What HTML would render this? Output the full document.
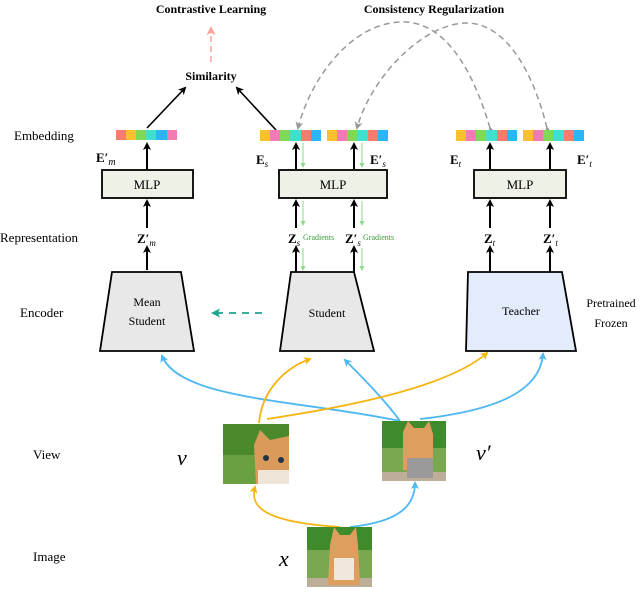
<!DOCTYPE html>
<html><head><meta charset="utf-8"><style>
html,body{margin:0;padding:0;background:#fff;}
svg{display:block;}
text{font-family:"Liberation Serif",serif;}
</style></head><body>
<svg width="640" height="598" viewBox="0 0 640 598" xmlns="http://www.w3.org/2000/svg">
<defs>
<marker id="ak" markerWidth="8" markerHeight="8" refX="6" refY="4" orient="auto" markerUnits="userSpaceOnUse"><path d="M0,0 L8,4 L0,8 L2,4z" fill="#000"/></marker>
<marker id="ag" markerWidth="8" markerHeight="8" refX="6" refY="4" orient="auto" markerUnits="userSpaceOnUse"><path d="M0,0 L8,4 L0,8 L2,4z" fill="#999"/></marker>
<marker id="ap" markerWidth="9" markerHeight="9" refX="6" refY="4.5" orient="auto" markerUnits="userSpaceOnUse"><path d="M0,0 L9,4.5 L0,9 L2,4.5z" fill="#f8a49a"/></marker>
<marker id="at" markerWidth="9" markerHeight="9" refX="6" refY="4.5" orient="auto" markerUnits="userSpaceOnUse"><path d="M0,0 L9,4.5 L0,9 L2,4.5z" fill="#1aa58f"/></marker>
<marker id="ab" markerWidth="8" markerHeight="8" refX="6" refY="4" orient="auto" markerUnits="userSpaceOnUse"><path d="M0,0 L8,4 L0,8 L2,4z" fill="#4fb8f0"/></marker>
<marker id="ao" markerWidth="8" markerHeight="8" refX="6" refY="4" orient="auto" markerUnits="userSpaceOnUse"><path d="M0,0 L8,4 L0,8 L2,4z" fill="#f5b50f"/></marker>
<marker id="agr" markerWidth="5" markerHeight="5" refX="4" refY="2.5" orient="auto" markerUnits="userSpaceOnUse"><path d="M0,0 L5,2.5 L0,5z" fill="#8fd98a"/></marker>
<g id="catv">
</g>
</defs>

<!-- titles -->
<text x="211" y="13" font-size="12" font-weight="bold" text-anchor="middle">Contrastive Learning</text>
<text x="434" y="13" font-size="12" font-weight="bold" text-anchor="middle">Consistency Regularization</text>
<line x1="211" y1="62" x2="211" y2="29" stroke="#f8a49a" stroke-width="1.5" stroke-dasharray="6,4" marker-end="url(#ap)"/>
<text x="211" y="80" font-size="12" font-weight="bold" text-anchor="middle">Similarity</text>
<line x1="147" y1="128" x2="185" y2="88" stroke="#000" stroke-width="1.6" marker-end="url(#ak)"/>
<line x1="276" y1="130" x2="237" y2="88" stroke="#000" stroke-width="1.6" marker-end="url(#ak)"/>

<!-- consistency arcs -->
<path d="M490,128 C470,60 440,20 400,22 C350,24 310,80 298,128" fill="none" stroke="#999" stroke-width="1.5" stroke-dasharray="6,4" marker-start="url(#ag)" marker-end="url(#ag)"/>
<path d="M547,128 C530,60 500,22 465,23 C420,25 370,80 357,128" fill="none" stroke="#999" stroke-width="1.5" stroke-dasharray="6,4" marker-start="url(#ag)" marker-end="url(#ag)"/>

<!-- left labels -->
<g font-size="13">
<text x="14" y="140">Embedding</text>
<text x="0" y="242">Representation</text>
<text x="20" y="317">Encoder</text>
<text x="33" y="459">View</text>
<text x="33" y="561">Image</text>
</g>

<!-- embedding bars -->
<g>
<rect x="116" y="130" width="10" height="10" fill="#f87c6c"/><rect x="126" y="130" width="10" height="10" fill="#fbc02d"/><rect x="136" y="130" width="10" height="10" fill="#7ed957"/><rect x="146" y="130" width="10" height="10" fill="#40e0d0"/><rect x="156" y="130" width="11" height="10" fill="#29b6f6"/><rect x="167" y="130" width="10" height="10" fill="#f27bb5"/>
</g>
<g id="bs">
<rect x="260" y="130" width="10" height="11" fill="#fbc02d"/><rect x="270" y="130" width="10" height="11" fill="#f27bb5"/><rect x="280" y="130" width="10" height="11" fill="#7ed957"/><rect x="290" y="130" width="11" height="11" fill="#40e0d0"/><rect x="301" y="130" width="10" height="11" fill="#f87c6c"/><rect x="311" y="130" width="10" height="11" fill="#29b6f6"/>
</g>
<use href="#bs" x="67"/>
<use href="#bs" x="196"/>
<use href="#bs" x="263"/>

<!-- E labels -->
<g font-size="13" font-weight="bold">
<text x="96" y="162">E′<tspan font-style="italic" font-weight="normal" font-size="10" dy="3">m</tspan></text>
<text x="256" y="164">E<tspan font-style="italic" font-weight="normal" font-size="9" dy="3">s</tspan></text>
<text x="370" y="164">E′<tspan font-style="italic" font-weight="normal" font-size="9" dy="3">s</tspan></text>
<text x="450" y="164">E<tspan font-style="italic" font-weight="normal" font-size="9" dy="3">t</tspan></text>
<text x="577" y="164">E′<tspan font-style="italic" font-weight="normal" font-size="9" dy="3">t</tspan></text>
</g>

<!-- MLP boxes -->
<g stroke="#000" stroke-width="1.8" fill="#eef1e6">
<rect x="102" y="170" width="91" height="28"/>
<rect x="279" y="170" width="108" height="28"/>
<rect x="474" y="170" width="92" height="28"/>
</g>
<g font-size="13" text-anchor="middle">
<text x="147" y="189">MLP</text><text x="333" y="189">MLP</text><text x="520" y="189">MLP</text>
</g>

<!-- black arrows -->
<g stroke="#000" stroke-width="2" marker-end="url(#ak)">
<line x1="147" y1="169" x2="147" y2="144"/>
<line x1="147" y1="228" x2="147" y2="201"/>
<line x1="147" y1="270" x2="147" y2="247"/>
<line x1="296" y1="169" x2="296" y2="144"/><line x1="354" y1="169" x2="354" y2="144"/>
<line x1="296" y1="228" x2="296" y2="201"/><line x1="354" y1="228" x2="354" y2="201"/>
<line x1="296" y1="272" x2="296" y2="247"/><line x1="354" y1="272" x2="354" y2="247"/>
<line x1="490" y1="169" x2="490" y2="144"/><line x1="550" y1="169" x2="550" y2="144"/>
<line x1="490" y1="228" x2="490" y2="201"/><line x1="550" y1="228" x2="550" y2="201"/>
<line x1="490" y1="272" x2="490" y2="247"/><line x1="550" y1="272" x2="550" y2="247"/>
</g>
<!-- green gradient arrows -->
<g stroke="#8fd98a" stroke-width="1" marker-end="url(#agr)">
<line x1="303" y1="143" x2="303" y2="167"/><line x1="362" y1="143" x2="362" y2="167"/>
<line x1="303" y1="201" x2="303" y2="225"/><line x1="362" y1="201" x2="362" y2="225"/>
<line x1="303" y1="248" x2="303" y2="270"/><line x1="362" y1="248" x2="362" y2="270"/>
</g>

<!-- Z labels -->
<g font-size="13" font-weight="bold">
<text x="137" y="243">Z′<tspan font-style="italic" font-weight="normal" font-size="9" dy="3">m</tspan></text>
<text x="288" y="243">Z<tspan font-style="italic" font-weight="normal" font-size="9" dy="3">s</tspan></text>
<text x="345" y="243">Z′<tspan font-style="italic" font-weight="normal" font-size="9" dy="3">s</tspan></text>
<text x="484" y="243">Z<tspan font-style="italic" font-weight="normal" font-size="9" dy="3">t</tspan></text>
<text x="543" y="243">Z′<tspan font-style="italic" font-weight="normal" font-size="9" dy="3">t</tspan></text>
</g>
<g font-size="8" fill="#3a9a3a">
<text x="303" y="240">Gradients</text><text x="363" y="240">Gradients</text>
</g>

<!-- encoders -->
<g stroke="#000" stroke-width="1.8">
<path d="M112,272 L181,272 L194,351 L100,351Z" fill="#e8e8e8"/>
<path d="M291,272 L354,272 L374,351 L280,351Z" fill="#e8e8e8"/>
<path d="M468,272 L562,272 L576,351 L466,351Z" fill="#e3ecfb"/>
</g>
<g font-size="12" text-anchor="middle">
<text x="147" y="306">Mean</text><text x="147" y="325">Student</text>
<text x="327" y="317">Student</text>
<text x="521" y="315">Teacher</text>
<text x="611" y="307">Pretrained</text><text x="611" y="327">Frozen</text>
</g>
<line x1="262" y1="313" x2="214" y2="313" stroke="#1aa58f" stroke-width="1.8" stroke-dasharray="7,6" marker-end="url(#at)"/>

<!-- view curves -->
<g fill="none" stroke-width="1.8">
<path d="M400,421 C300,400 180,400 162,356" stroke="#4fb8f0" marker-end="url(#ab)"/>
<path d="M400,421 C385,400 360,375 345,360" stroke="#4fb8f0" marker-end="url(#ab)"/>
<path d="M420,419 C500,410 540,390 543,354" stroke="#4fb8f0" marker-end="url(#ab)"/>
<path d="M259,423 C262,390 285,368 310,359" stroke="#f5b50f" marker-end="url(#ao)"/>
<path d="M267,419 C360,405 450,385 487,353" stroke="#f5b50f" marker-end="url(#ao)"/>
<path d="M340,527 C260,522 250,505 255,487" stroke="#f5b50f" marker-end="url(#ao)"/>
<path d="M350,527 C400,522 415,505 415,483" stroke="#4fb8f0" marker-end="url(#ab)"/>
</g>

<!-- images -->
<g>
<rect x="223" y="424" width="66" height="60" fill="#4a8a2c"/>
<rect x="223" y="455" width="66" height="29" fill="#6aa040"/>
<path d="M256,484 L254,445 L260,430 L270,440 L289,436 L289,484Z" fill="#d99a5a"/>
<rect x="258" y="470" width="31" height="14" fill="#eee4d8"/>
<circle cx="266" cy="458" r="3" fill="#234"/><circle cx="281" cy="460" r="3" fill="#234"/>

<rect x="382" y="421" width="64" height="60" fill="#3f8a2a"/>
<rect x="382" y="448" width="64" height="25" fill="#7aa850"/>
<rect x="382" y="472" width="64" height="9" fill="#bcae98"/>
<path d="M403,470 L403,432 L408,421 L414,428 L424,428 L429,421 L433,434 L433,470Z" fill="#dd9e5e"/>
<rect x="407" y="458" width="26" height="20" fill="#9a9a9a"/>

<rect x="307" y="527" width="65" height="60" fill="#3f8a2a"/>
<rect x="307" y="550" width="65" height="28" fill="#7aa850"/>
<rect x="307" y="578" width="65" height="9" fill="#bcae98"/>
<path d="M328,585 L330,545 L334,527 L340,535 L350,535 L356,527 L358,545 L360,585Z" fill="#dd9e5e"/>
<rect x="334" y="558" width="20" height="22" fill="#f0e8dc"/>
</g>

<g font-size="22" font-style="italic">
<text x="177" y="465">v</text>
<text x="476" y="460">v′</text>
<text x="279" y="566">x</text>
</g>
</svg>
</body></html>
